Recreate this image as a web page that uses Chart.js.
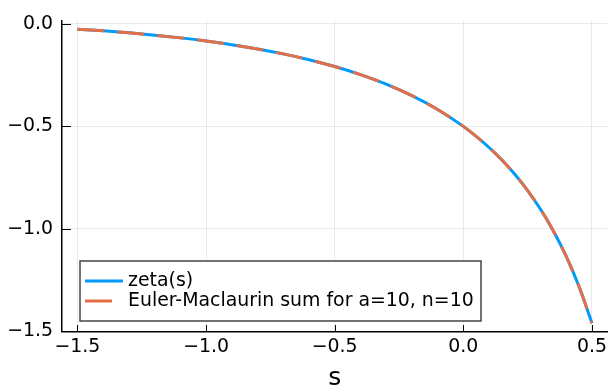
<!DOCTYPE html>
<html>
<head>
<meta charset="utf-8">
<script src="https://cdn.jsdelivr.net/npm/chart.js@4.4.0/dist/chart.umd.min.js"></script>
<style>
  html, body { margin: 0; padding: 0; background: #fff; }
  #wrap { width: 611px; height: 385px; }
</style>
</head>
<body>
<div id="wrap"><canvas id="chart1" width="611" height="385"></canvas></div>
<script>
// s grid and the two curves
const sValues = [-1.5, -1.4, -1.3, -1.2, -1.1, -1.0, -0.9, -0.8, -0.7, -0.6, -0.5,
                 -0.4, -0.3, -0.2, -0.1, 0.0, 0.05, 0.1, 0.15, 0.2, 0.25, 0.3, 0.35, 0.4, 0.45, 0.5];
const zetaValues = [-0.0255, -0.0337, -0.0434, -0.0547, -0.0680, -0.0833, -0.1012, -0.1219, -0.1461, -0.1745, -0.2079,
                    -0.2473, -0.2939, -0.3497, -0.4173, -0.5000, -0.5487, -0.6031, -0.6644, -0.7340, -0.8133, -0.9046, -1.0105, -1.1348, -1.2824, -1.4604];
const eulerMaclaurinValues = [-0.0255, -0.0337, -0.0434, -0.0547, -0.0680, -0.0833, -0.1012, -0.1219, -0.1461, -0.1745, -0.2079,
                              -0.2473, -0.2939, -0.3497, -0.4173, -0.5000, -0.5487, -0.6031, -0.6644, -0.7340, -0.8133, -0.9046, -1.0105, -1.1348, -1.2824, -1.4604];
const seriesLabels = ['zeta(s)', 'Euler-Maclaurin sum for a=10, n=10'];
const xTicks = [-1.5, -1.0, -0.5, 0.0, 0.5];
const yTicks = [-1.5, -1.0, -0.5, 0.0];

const FONT = 'DejaVu Sans';
const fmt = v => v.toFixed(1).replace('-', '\u2212');

// inward tick marks + framed legend in the lower left of the plot
const plotsFrame = {
    id: 'plotsFrame',
    afterDatasetsDraw(chart) {
        const ctx = chart.ctx;
        const area = chart.chartArea;
        const xs = chart.scales.x, ys = chart.scales.y;
        ctx.save();
        ctx.strokeStyle = '#000';
        ctx.lineWidth = 1;
        ctx.beginPath();
        xTicks.forEach(v => {
            const px = Math.round(xs.getPixelForValue(v)) + 0.5;
            ctx.moveTo(px, area.bottom);
            ctx.lineTo(px, area.bottom - 7);
        });
        yTicks.forEach(v => {
            const py = Math.round(ys.getPixelForValue(v)) + 0.5;
            ctx.moveTo(area.left, py);
            ctx.lineTo(area.left + 9, py);
        });
        ctx.stroke();

        // legend
        const bx = area.left + 18, by = area.bottom - 71, bw = 401, bh = 60;
        ctx.fillStyle = '#fff';
        ctx.fillRect(bx, by, bw, bh);
        ctx.strokeStyle = '#444';
        ctx.lineWidth = 1.5;
        ctx.strokeRect(bx, by, bw, bh);
        ctx.font = '18.9px "' + FONT + '"';
        ctx.textBaseline = 'middle';
        chart.data.datasets.forEach((ds, i) => {
            const y = by + 20 + i * 20;
            ctx.strokeStyle = ds.borderColor;
            ctx.lineWidth = ds.borderWidth;
            ctx.setLineDash(ds.borderDash || []);
            ctx.beginPath();
            ctx.moveTo(bx + 5, y);
            ctx.lineTo(bx + 43, y);
            ctx.stroke();
            ctx.setLineDash([]);
            ctx.fillStyle = '#000';
            ctx.fillText(ds.label, bx + 48, y);
        });
        ctx.restore();
    }
};

const ctx = document.getElementById('chart1').getContext('2d');
const zetaChart = new Chart(ctx, {
    type: 'line',
    data: {
        datasets: [{
            label: seriesLabels[0],
            data: sValues.map((s, i) => ({ x: s, y: zetaValues[i] })),
            borderColor: '#009AFA',
            borderWidth: 3,
            pointRadius: 0,
            cubicInterpolationMode: 'monotone',
            order: 2
        }, {
            label: seriesLabels[1],
            data: sValues.map((s, i) => ({ x: s, y: eulerMaclaurinValues[i] })),
            borderColor: '#E26F46',
            borderWidth: 3,
            borderDash: [27, 13],
            pointRadius: 0,
            cubicInterpolationMode: 'monotone',
            order: 1
        }]
    },
    options: {
        responsive: false,
        animation: false,
        devicePixelRatio: 1,
        layout: { padding: { top: 16, right: 0, left: 0, bottom: 0 } },
        plugins: { legend: { display: false }, tooltip: { enabled: false } },
        scales: {
            x: {
                type: 'linear',
                min: -1.56,
                max: 0.56,
                afterBuildTicks: s => { s.ticks = xTicks.map(v => ({ value: v })); },
                afterFit: s => { s.height = 53; },
                grid: { color: 'rgba(0,0,0,0.08)', lineWidth: 1, drawTicks: false },
                border: { display: true, color: '#000', width: 1.5 },
                ticks: {
                    padding: 4,
                    color: '#000',
                    font: { family: FONT, size: 18.9 },
                    maxRotation: 0,
                    callback: v => fmt(v)
                },
                title: {
                    display: true,
                    text: 's',
                    color: '#000',
                    font: { family: FONT, size: 25, lineHeight: 0.5 },
                    padding: 0
                }
            },
            y: {
                type: 'linear',
                min: -1.5035,
                max: 0.0176,
                afterBuildTicks: s => { s.ticks = yTicks.map(v => ({ value: v })); },
                afterFit: s => { s.width = 62; },
                grid: { color: 'rgba(0,0,0,0.08)', lineWidth: 1, drawTicks: false },
                border: { display: true, color: '#000', width: 1.5 },
                ticks: {
                    padding: 9,
                    color: '#000',
                    font: { family: FONT, size: 18.9 },
                    callback: v => fmt(v)
                }
            }
        }
    },
    plugins: [plotsFrame]
});
</script>
</body>
</html>
